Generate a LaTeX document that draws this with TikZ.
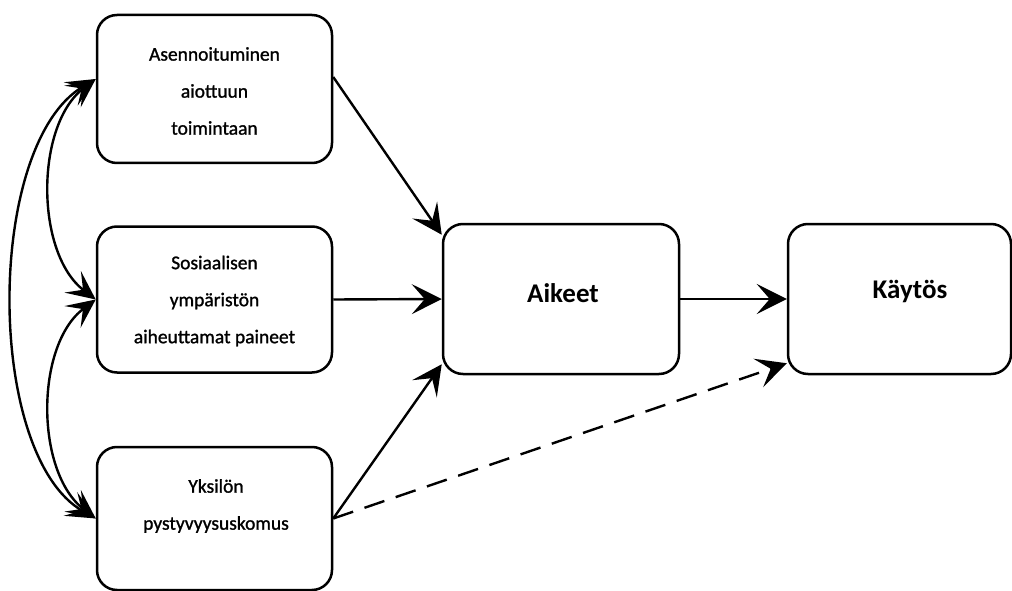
\documentclass[tikz,border=0pt]{standalone}
\usepackage{fontspec}
\setmainfont{Carlito}
\newfontfamily\boxfont[FakeBold=1.2]{Carlito}
\usetikzlibrary{arrows.meta}
\begin{document}
\begin{tikzpicture}[x=1pt,y=-1pt,
  box/.style={draw=black, line width=2.5pt, rounded corners=20pt, inner sep=0pt},
  boxtext/.style={align=center, font=\boxfont\fontsize{19.5}{37}\selectfont},
  bigtext/.style={font=\fontsize{27}{30}\selectfont\bfseries},
  conn/.style={line width=2.4pt, -{Stealth[length=30pt, width=30pt, inset=13pt]}},
  dconn/.style={conn, dash pattern=on 21pt off 12pt},
  both/.style={line width=2.4pt, {Stealth[length=29pt, width=27pt, inset=13pt]}-{Stealth[length=29pt, width=27pt, inset=13pt]}}]
\useasboundingbox (0,0) rectangle (1012,591);
% boxes
\node[box, minimum width=235pt, minimum height=148pt] (b1) at (214.5,89) {};
\node[box, minimum width=235pt, minimum height=146pt] (b2) at (214.5,299.5) {};
\node[box, minimum width=235pt, minimum height=143pt] (b3) at (214.5,518.5) {};
\node[box, minimum width=236pt, minimum height=150pt] (a) at (561,299) {};
\node[box, minimum width=223pt, minimum height=150pt] (k) at (899.5,299) {};
% texts
\node[boxtext] (t1) at (214.5,91) {Asennoituminen\\aiottuun\\toimintaan};
\node[boxtext] (t2) at (214.5,301) {Sosiaalisen\\ympäristön\\aiheuttamat paineet};
\node[boxtext] (t3) at (216,506) {Yksilön\\pystyvyysuskomus};
\node[bigtext, anchor=base] (ta) at (563,302) {Aikeet};
\node[bigtext, anchor=base] (tk) at (910,298) {Käytös};
% anchors
\coordinate (b1w) at ([yshift=10pt]b1.west);
\coordinate (b1e) at ([yshift=12pt]b1.east);
\coordinate (atop) at ([yshift=-12pt]a.north west);
\coordinate (abot) at ([yshift=11pt]a.south west);
\coordinate (kbot) at ([yshift=12pt]k.south west);
% connectors
\draw[conn] (b1e) -- (atop);
\draw[conn] (b2.east) -- (a.west);
\draw[conn] (b3.east) -- (abot);
\draw[conn] (a.east) -- (k.west);
\draw[dconn] (b3.east) -- (kbot);
% curved bidirectional arrows
\draw[both] (b1w) .. controls (35,125) and (35,253) .. (b2.west);
\draw[both] (b2.west) .. controls (35,345) and (35,472) .. (b3.west);
\draw[both] (b1w) .. controls (-15,145) and (-15,455) .. (b3.west);
\end{tikzpicture}
\end{document}
